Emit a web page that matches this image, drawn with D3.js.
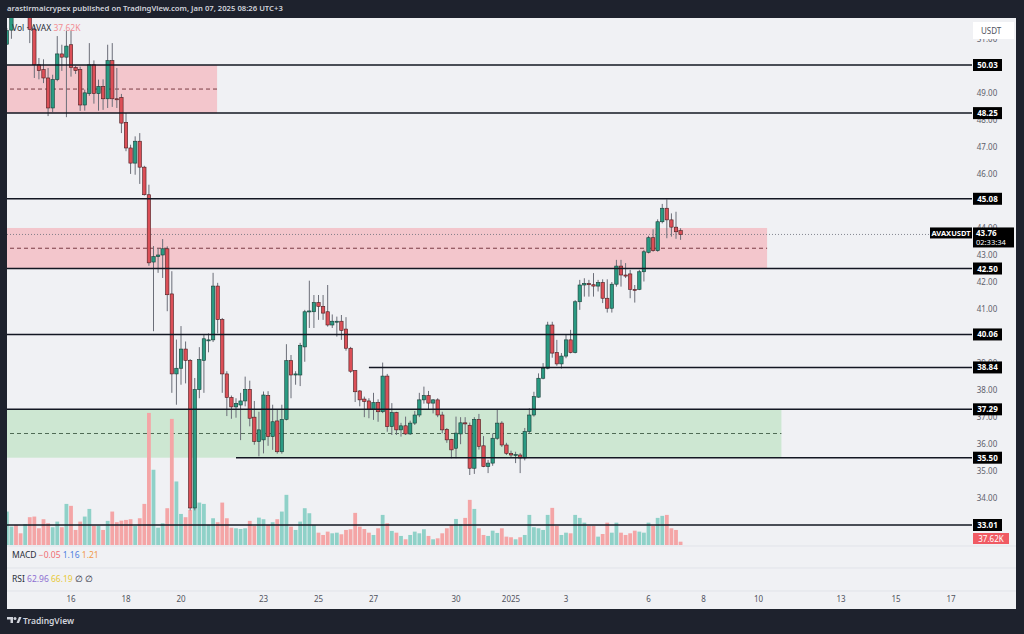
<!DOCTYPE html>
<html><head><meta charset="utf-8">
<script src="https://cdn.jsdelivr.net/npm/d3@7"></script>
<style>body{margin:0;background:#1e222d;overflow:hidden}svg{display:block}</style>
</head><body>
<svg id="c" width="1024" height="634"></svg>
<script>
// ---------- DATA ----------
const startTime = "2024-12-13T16:00:00Z";   // first 4h candle
const stepHours = 4;
const opens = [50.8,51.32,52.6,52.3,52.0,52.3,51.35,50.04,49.86,49.55,48.44,49.49,50.44,50.32,50.78,49.94,49.86,48.55,48.97,50.04,
48.97,49.24,48.78,50.19,48.78,48.83,47.91,46.96,46.4,47.21,46.25,45.23,42.74,42.94,43.0,43.23,41.56,38.6,38.81,39.52,
39.1,33.64,38.02,39.1,39.86,39.86,41.85,40.61,38.6,37.73,37.38,37.45,37.6,38.03,37.0,36.1,36.16,37.8,36.28,36.86,
35.72,36.92,39.09,38.56,38.56,39.6,40.9,40.9,41.24,41.1,40.9,40.41,40.55,40.55,40.26,39.55,38.72,37.97,37.67,37.6,
37.29,37.54,37.2,38.52,36.65,37.17,36.53,36.68,36.38,36.78,37.08,37.64,37.8,37.52,37.64,37.08,36.55,36.18,35.85,36.38,
36.79,36.7,35.11,36.92,35.94,35.17,35.3,36.22,36.78,35.97,35.66,35.6,35.6,35.49,36.47,37.08,37.74,38.44,38.81,40.41,
39.39,38.97,39.26,39.86,39.39,41.27,41.89,41.95,41.9,41.85,41.98,41.4,41.03,41.92,42.59,42.26,42.3,41.73,41.73,42.38,
43.1,43.64,43.16,44.23,44.73,44.3,44.03,43.9];
const highs = [51.4,52.3,52.9,52.6,52.5,52.6,51.5,50.29,50.24,49.92,49.67,51.1,50.78,51.3,51.3,50.0,49.97,49.12,50.84,50.2,
49.49,49.5,50.78,50.84,49.92,48.96,48.25,47.08,47.39,47.51,46.3,45.6,43.33,43.26,43.59,43.32,42.4,39.87,40.37,39.8,
39.15,38.45,39.59,40.05,40.1,42.34,41.97,40.67,38.7,37.8,37.7,37.9,38.5,38.35,37.6,37.2,37.95,37.96,37.46,37.3,
37.46,39.7,39.3,38.7,39.75,40.97,42.05,41.52,41.52,41.52,41.89,40.8,40.72,40.78,40.7,39.6,38.74,38.0,37.76,37.7,
37.9,37.66,39.02,38.6,37.52,37.2,36.79,37.02,36.87,37.23,37.9,38.13,37.97,37.67,37.7,37.2,36.6,36.2,37.02,37.0,
37.0,36.8,37.0,37.12,36.3,35.42,36.4,37.27,36.85,36.05,35.76,35.72,35.67,36.6,37.33,37.94,38.62,39.0,40.53,40.53,
39.86,39.37,40.04,40.23,41.33,42.08,42.14,42.08,42.33,42.08,42.1,42.1,42.0,42.82,42.82,42.7,42.45,41.89,42.45,43.19,
43.71,43.95,44.32,44.89,45.06,44.54,44.6,43.99];
const lows = [50.77,51.0,52.2,51.9,51.85,50.84,49.55,49.5,49.36,48.14,48.29,49.43,49.81,48.1,49.6,49.7,48.33,48.34,48.89,48.6,
48.34,48.37,48.44,48.48,48.44,47.51,46.84,46.0,45.97,45.63,45.2,42.6,40.18,42.34,42.15,40.92,37.9,37.46,38.2,38.25,
33.55,33.55,37.7,37.9,39.4,39.78,40.1,37.9,37.04,36.94,36.98,36.15,37.4,36.66,35.98,35.55,35.66,35.94,35.79,35.65,
35.65,36.88,37.7,38.2,38.15,39.05,40.3,40.3,40.6,40.6,40.35,40.3,39.98,39.86,39.46,38.64,37.56,37.4,37.0,36.96,
36.9,36.83,37.15,36.46,36.34,36.34,36.28,36.34,36.34,36.71,37.0,37.5,37.3,37.14,37.0,36.4,36.05,35.48,35.48,36.0,
36.4,34.86,34.9,35.8,35.15,34.93,35.2,36.16,35.9,35.6,35.52,35.3,34.93,35.4,36.4,37.02,37.72,38.4,38.77,39.2,
38.9,38.8,39.18,39.36,39.36,40.97,41.46,41.46,41.46,41.65,41.22,40.87,40.87,41.83,41.83,42.15,41.4,41.24,41.7,42.02,
43.06,43.12,43.12,44.17,43.62,43.68,43.6,43.56];
const closes = [51.3,52.0,52.3,52.0,52.3,51.35,50.04,49.82,49.55,48.44,49.49,50.44,50.32,50.73,49.94,49.82,48.55,49.0,50.04,48.97,
49.24,48.78,50.19,48.78,48.76,47.88,46.96,46.4,47.21,46.25,45.23,42.71,42.94,43.0,43.23,41.53,38.6,38.81,39.52,39.1,
33.64,38.02,39.13,39.9,39.86,41.85,40.61,38.6,37.73,37.38,37.51,37.6,38.03,36.96,36.1,36.53,37.82,36.28,36.83,35.72,
36.92,39.09,38.56,38.6,39.66,40.9,40.93,41.24,41.1,40.85,40.41,40.55,40.55,40.21,39.55,38.7,37.94,37.64,37.58,37.29,
37.54,37.2,38.52,36.65,37.17,36.53,36.68,36.38,36.78,37.08,37.64,37.8,37.52,37.64,37.08,36.53,36.16,35.79,36.41,36.79,
36.75,35.11,36.92,35.92,35.17,35.3,36.22,36.78,35.97,35.66,35.6,35.62,35.49,36.47,37.08,37.76,38.44,38.81,40.41,39.37,
38.97,39.26,39.86,39.39,41.27,41.89,41.95,41.9,41.85,41.98,41.4,41.03,41.92,42.59,42.26,42.22,41.73,41.7,42.38,43.12,
43.64,43.16,44.23,44.73,44.3,44.03,43.86,43.76];
const volumes = [380,209,228,133,239,316,323,190,293,247,202,266,202,467,445,171,266,323,410,217,
217,171,274,380,259,277,285,293,217,304,467,1501,855,197,247,418,1433,722,353,316,
399,437,482,467,228,304,259,482,304,197,190,182,190,274,217,311,293,228,259,293,
380,570,209,171,266,418,361,228,140,114,152,133,140,122,171,179,365,209,182,140,
114,190,342,247,160,140,103,65,114,152,133,179,103,65,76,133,190,228,296,239,
308,513,410,190,114,103,163,137,190,95,88,65,88,114,342,202,190,171,342,422,
217,114,140,133,342,308,254,217,217,95,125,254,140,254,140,114,133,163,152,140,
254,217,308,331,342,190,171,37.62];

const levelPrices = [50.03, 48.25, 45.08, 42.50, 40.06, 37.29, 33.01];
const partialLevels = [{price: 38.84, from: "2024-12-26T20:00:00Z"}, {price: 35.50, from: "2024-12-22T00:00:00Z"}];
const zones = [
  {top: 50.03, bottom: 48.25, end: "2024-12-21T07:30:00Z", kind: "supply"},
  {top: 44.00, bottom: 42.50, end: "2025-01-10T07:30:00Z", kind: "supply"},
  {top: 37.29, bottom: 35.50, end: "2025-01-10T20:00:00Z", kind: "demand"}
];
// ticks left visible by the level labels (50, 45, 40, 33 sit fully behind them)
const priceTicks = [34,35,36,37,38,39,41,42,43,44,46,47,48,49,51];
const timeTickDates = ["2024-12-16","2024-12-18","2024-12-20","2024-12-23","2024-12-25","2024-12-27","2024-12-30",
  "2025-01-01","2025-01-03","2025-01-06","2025-01-08","2025-01-10","2025-01-13","2025-01-15","2025-01-17"];
const timeTickLabels = ["16","18","20","23","25","27","30","2025","3","6","8","10","13","15","17"];
const lastPrice = 43.76, countdown = "02:33:34", symbol = "AVAXUSDT", lastVolLabel = "37.62K";

// ---------- LAYOUT ----------
const svg = d3.select("#c");
const P = {left: 7, right: 1016, top: 18, bottom: 609, plotRight: 969, priceBottom: 545};
const bg = "#f0f1f4";
const font = "'Noto Sans', 'Open Sans', sans-serif";

svg.append("rect").attr("width",1024).attr("height",634).attr("fill","#1e222d");
svg.append("rect").attr("x",P.left).attr("y",P.top).attr("width",P.right-P.left).attr("height",P.bottom-P.top).attr("fill",bg);

const t0 = new Date(startTime);
const times = opens.map((d,i)=> new Date(t0.getTime() + i*stepHours*3600e3));
const x = d3.scaleUtc().domain([new Date("2024-12-16T00:00:00Z"), new Date("2024-12-18T00:00:00Z")]).range([71,126]);
const y = d3.scaleLinear().domain([33.01, 50.03]).range([525, 65]);
const yv = d3.scaleLinear().domain([0, 1500]).range([P.priceBottom, P.priceBottom-132]);

const defs = svg.append("defs");
defs.append("clipPath").attr("id","pclip").append("rect")
  .attr("x",P.left).attr("y",P.top).attr("width",P.plotRight-P.left).attr("height",P.priceBottom-P.top);
const g = svg.append("g").attr("clip-path","url(#pclip)");

// zones
const zoneFill = {supply:"#f3c6cc", demand:"#cde7d2"};
zones.forEach(z=>{
  const xr = x(new Date(z.end));
  g.append("rect").attr("x",P.left).attr("y",y(z.top)).attr("width",xr-P.left).attr("height",y(z.bottom)-y(z.top))
   .attr("fill",zoneFill[z.kind]);
  const mid = (z.top+z.bottom)/2;
  g.append("line").attr("x1",P.left+3).attr("x2",xr).attr("y1",y(mid)).attr("y2",y(mid))
   .attr("stroke", z.kind==="supply" ? "#7a3c44" : "#4f6b55").attr("stroke-width",1).attr("stroke-dasharray","4,3");
});

// volume
const up = i => closes[i] >= opens[i];
g.append("g").selectAll("rect").data(volumes).join("rect")
  .attr("x",(d,i)=>x(times[i])-1.9).attr("width",3.8)
  .attr("y",d=>yv(d)).attr("height",d=>P.priceBottom-yv(d))
  .attr("fill",(d,i)=> up(i) ? "#8fd1c8" : "#f4a5a6");

// current price dotted line
g.append("line").attr("x1",P.left).attr("x2",P.plotRight).attr("y1",y(lastPrice)).attr("y2",y(lastPrice))
  .attr("stroke","#6a6d78").attr("stroke-width",0.8).attr("stroke-dasharray","1,2");

// candles
const cg = g.append("g");
opens.forEach((o,i)=>{
  const cx = x(times[i]);
  const isUp = up(i);
  cg.append("line").attr("x1",cx).attr("x2",cx).attr("y1",y(highs[i])).attr("y2",y(lows[i]))
    .attr("stroke", "#6b6e78").attr("stroke-width",1);
  const yt = y(Math.max(o,closes[i])), yb = y(Math.min(o,closes[i]));
  cg.append("rect").attr("x",cx-1.7).attr("width",3.4).attr("y",yt).attr("height",Math.max(1,yb-yt))
    .attr("fill", isUp ? "#2a9a82" : "#dc4f57").attr("stroke", isUp ? "#173d35" : "#4a1d20").attr("stroke-width",0.6);
});

// horizontal levels
const lg = svg.append("g");
levelPrices.forEach(p=>{
  lg.append("line").attr("x1",P.left).attr("x2",972).attr("y1",y(p)).attr("y2",y(p))
    .attr("stroke","#131722").attr("stroke-width",1.5);
});
partialLevels.forEach(l=>{
  lg.append("line").attr("x1",x(new Date(l.from))).attr("x2",972).attr("y1",y(l.price)).attr("y2",y(l.price))
    .attr("stroke","#131722").attr("stroke-width",1.5);
});

// price axis ticks
const ax = svg.append("g").attr("font-family",font).attr("font-size",8).attr("fill","#5d606b").attr("text-anchor","middle");
priceTicks.forEach(p=>{
  ax.append("text").attr("x",987).attr("y",y(p)+3).text(d3.format(".2f")(p));
});

// USDT box
svg.append("rect").attr("x",973).attr("y",22).attr("width",41).attr("height",17).attr("fill","#ffffff");
svg.append("text").attr("x",981).attr("y",33.5).attr("font-family",font).attr("font-size",8).attr("fill","#50535e").text("USDT");

// level labels
const allLevels = levelPrices.concat(partialLevels.map(l=>l.price));
allLevels.forEach(p=>{
  svg.append("rect").attr("x",973).attr("y",y(p)-6).attr("width",29).attr("height",12).attr("fill","#000");
  svg.append("text").attr("x",987.5).attr("y",y(p)+3).attr("text-anchor","middle").attr("font-family",font)
    .attr("font-size",8).attr("font-weight","bold").attr("fill","#fff").text(d3.format(".2f")(p));
});

// last price labels
svg.append("rect").attr("x",930).attr("y",y(lastPrice)-7).attr("width",42).attr("height",11).attr("fill","#000");
svg.append("text").attr("x",951).attr("y",y(lastPrice)+1.5).attr("text-anchor","middle").attr("font-family",font)
  .attr("font-size",7.5).attr("font-weight","bold").attr("fill","#fff").text(symbol);
svg.append("rect").attr("x",973).attr("y",y(lastPrice)-7).attr("width",41).attr("height",20).attr("fill","#000");
svg.append("text").attr("x",976).attr("y",y(lastPrice)+1.5).attr("font-family",font)
  .attr("font-size",8).attr("font-weight","bold").attr("fill","#fff").text(d3.format(".2f")(lastPrice));
svg.append("text").attr("x",976).attr("y",y(lastPrice)+10.5).attr("font-family",font)
  .attr("font-size",7.5).attr("fill","#fff").text(countdown);

// volume label
svg.append("rect").attr("x",973).attr("y",yv(0)-12).attr("width",36).attr("height",11).attr("fill","#f05a63");
svg.append("text").attr("x",991).attr("y",yv(0)-3.5).attr("text-anchor","middle").attr("font-family",font)
  .attr("font-size",8).attr("fill","#fff").text(lastVolLabel);

// pane separators
[546, 568, 591].forEach(yy=>{
  svg.append("line").attr("x1",P.left).attr("x2",P.right).attr("y1",yy).attr("y2",yy).attr("stroke","#e1e3e9").attr("stroke-width",1);
});

// time axis
const tx = svg.append("g").attr("font-family",font).attr("font-size",8).attr("fill","#50535e").attr("text-anchor","middle");
timeTickDates.forEach((d,i)=>{
  tx.append("text").attr("x",x(new Date(d+"T00:00:00Z"))).attr("y",602).text(timeTickLabels[i]);
});

// legends
const leg = svg.append("g").attr("font-family",font).attr("font-size",8.5);
const t1 = leg.append("text").attr("x",12).attr("y",31);
t1.append("tspan").attr("fill","#2a2e39").text("Vol · AVAX ");
t1.append("tspan").attr("fill","#f28e95").text(" " + lastVolLabel);
const t2 = leg.append("text").attr("x",12).attr("y",558);
t2.append("tspan").attr("fill","#2a2e39").text("MACD ");
t2.append("tspan").attr("fill","#f06b73").text(" −0.05 ");
t2.append("tspan").attr("fill","#4f7fe0").text(" 1.16 ");
t2.append("tspan").attr("fill","#f09a4a").text(" 1.21");
const t3 = leg.append("text").attr("x",12).attr("y",582);
t3.append("tspan").attr("fill","#2a2e39").text("RSI ");
t3.append("tspan").attr("fill","#8d6fd1").text(" 62.96 ");
t3.append("tspan").attr("fill","#e8c93a").text(" 66.19 ");
t3.append("tspan").attr("fill","#2a2e39").text(" ∅  ∅");

// header & footer
svg.append("text").attr("x",7).attr("y",11).attr("font-family",font).attr("font-size",7.7).attr("font-weight","600")
  .attr("fill","#d1d4dc").text("arastirmaicrypex published on TradingView.com, Jan 07, 2025 08:26 UTC+3");
const logo = svg.append("g").attr("fill","#d1d4dc");
logo.append("path").attr("d","M7 617 h6 v6 h-2.5 v-3.5 h-3.5 z");
logo.append("circle").attr("cx",15).attr("cy",618.5).attr("r",1.5);
logo.append("path").attr("d","M16.5 623 l2.5 -6 h2.5 l-2.5 6 z");
svg.append("text").attr("x",23).attr("y",623.5).attr("font-family",font).attr("font-size",8.5).attr("font-weight","600")
  .attr("fill","#d1d4dc").text("TradingView");
</script>
</body></html>
